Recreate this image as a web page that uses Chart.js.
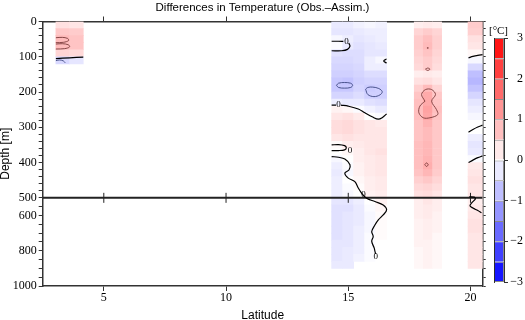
<!DOCTYPE html>
<html>
<head>
<meta charset="utf-8">
<script src="https://cdn.jsdelivr.net/npm/chart.js@4.4.0/dist/chart.umd.min.js"></script>
<style>
  html, body { margin: 0; padding: 0; background: #fff; overflow: hidden; }
  #wrap { position: relative; width: 525px; height: 320px; }
  #main { position: absolute; left: 0; top: 0; }
  #cbar { position: absolute; left: 474px; top: 0; }
</style>
</head>
<body>
<div id="wrap">
  <canvas id="main" width="525" height="320"></canvas>
  <canvas id="cbar" width="50" height="320"></canvas>
</div>
<script>
/* ---- data ---- */
const depthLevels = [10, 30, 50, 70, 90, 110, 130, 150, 170, 190, 210, 230, 250, 270, 290, 310, 330, 350, 370, 390, 410, 430, 450, 470, 490,
  520, 560, 600, 640, 680, 720, 760, 800, 840, 880];

const depthTicks = [0, 20, 40, 60, 80, 100, 120, 140, 160, 180, 200, 220, 240, 260, 280, 300, 320, 340, 360, 380, 400, 420, 440, 460, 480, 500,
  550, 600, 650, 700, 750, 800, 850, 900, 950, 1000];
const depthLabels = [0, 100, 200, 300, 400, 500, 600, 800, 1000];
const latTicks = [5, 10, 15, 20];

// strip near 3-4 N
const stripA_cols = [[3.04, 3.6], [3.6, 4.16]];
const stripA_vals = [
  [0.35, 0.65, 0.8, 0.8, 0.5, -0.45],
  [0.3, 0.6, 0.7, 0.7, 0.45, -0.3]
];

// strip near 14.3-16.6 N
const stripB_cols = [[14.32, 14.77], [14.77, 15.22], [15.22, 15.67], [15.67, 16.12], [16.12, 16.57]];
const stripB_vals = [
  [-0.25, -0.3, -0.1, -0.05, -0.35, -0.45, -0.5, -0.55, -0.65, -0.65, -0.5, -0.2, 0.15, 0.3, 0.4, 0.4, 0.3, 0.05, 0.0, -0.1, -0.2, -0.25, -0.2, -0.2, -0.2,
    -0.3, -0.35, -0.35, -0.35, -0.35, -0.35, -0.3, -0.3, -0.3, -0.25],
  [-0.25, -0.3, -0.2, -0.25, -0.4, -0.45, -0.5, -0.55, -0.7, -0.65, -0.5, -0.25, 0.1, 0.35, 0.45, 0.45, 0.35, 0.2, 0.1, 0.0, -0.05, -0.1, 0.0, -0.05, -0.1,
    -0.3, -0.35, -0.3, -0.3, -0.3, -0.3, -0.3, -0.25, -0.25, -0.25],
  [-0.15, -0.25, -0.3, -0.35, -0.4, -0.4, -0.45, -0.5, -0.55, -0.5, -0.4, -0.25, -0.05, 0.25, 0.35, 0.35, 0.3, 0.25, 0.2, 0.2, 0.15, 0.15, 0.1, 0.05, 0.0,
    -0.2, -0.25, -0.25, -0.25, -0.2, -0.2, -0.2, -0.2, -0.15, null],
  [-0.1, -0.2, -0.25, -0.3, -0.3, -0.2, -0.2, -0.4, -0.5, -0.6, -0.55, -0.35, -0.15, 0.0, 0.3, 0.3, 0.3, 0.3, 0.3, 0.25, 0.25, 0.25, 0.2, 0.2, 0.15,
    0.0, -0.05, -0.1, -0.1, -0.1, -0.05, -0.05, -0.05, -0.05, null],
  [-0.15, -0.2, -0.2, -0.25, -0.3, -0.1, -0.2, -0.4, -0.5, -0.55, -0.55, -0.4, -0.25, -0.05, 0.25, 0.3, 0.3, 0.3, 0.35, 0.3, 0.3, 0.3, 0.25, 0.25, 0.2,
    0.15, 0.1, 0.05, 0.05, 0.05, 0.05, 0.0, 0.0, 0.0, null]
];

// strip near 17.7-18.8 N
const stripC_cols = [[17.7, 18.07], [18.07, 18.45], [18.45, 18.82]];
const stripC_vals = [
  [0.2, 0.5, 0.6, 0.6, 0.55, 0.5, 0.45, 0.2, 0.35, 0.55, 0.7, 0.75, 0.75, 0.75, 0.7, 0.7, 0.7, 0.75, 0.75, 0.75, 0.75, 0.7, 0.55, 0.45, 0.35,
    0.2, 0.2, 0.2, 0.15, 0.15, 0.15, 0.15, 0.1, 0.1, 0.1],
  [0.25, 0.6, 0.75, 0.8, 0.7, 0.6, 0.6, 0.25, 0.4, 0.8, 1.0, 1.0, 1.1, 1.05, 0.9, 0.8, 0.8, 0.85, 0.85, 0.9, 0.95, 0.85, 0.65, 0.5, 0.4,
    0.3, 0.25, 0.25, 0.2, 0.2, 0.2, 0.15, 0.15, 0.15, 0.15],
  [0.2, 0.5, 0.55, 0.55, 0.5, 0.45, 0.4, 0.2, 0.3, 0.5, 0.65, 0.7, 0.75, 0.7, 0.65, 0.65, 0.65, 0.65, 0.65, 0.65, 0.65, 0.6, 0.5, 0.4, 0.3,
    0.2, 0.2, 0.15, 0.15, 0.15, 0.1, 0.1, 0.1, 0.1, 0.1]
];

// strip at the right edge, 19.9 N onward
const stripD_cols = [[19.9, 20.5]];
const stripD_vals = [
  [0.6, 0.55, 0.35, 0.3, 0.1, -0.1, -0.45, -0.75, -0.85, -0.7, -0.5, -0.3, -0.2, -0.1, 0.0, 0.0, -0.2, -0.3, -0.25, -0.05, 0.25, 0.3, 0.35, 0.3, 0.3,
    0.2, 0.25, 0.3, 0.35, 0.35, 0.3, 0.3, 0.3, 0.3, 0.3]
];

// zero contours [lat, depth]
const zeroContours = [
  [[3.04, 105], [3.6, 103], [4.16, 101]],
  [[14.32, 56], [14.6, 56], [14.8, 56.5]],
  [[15.02, 61], [15.07, 70], [14.97, 79], [14.73, 83], [14.32, 83]],
  [[16.57, 106], [16.45, 112], [16.57, 118]],
  [[14.32, 237], [14.5, 237]],
  [[14.7, 237], [15.0, 240], [15.41, 248], [15.68, 259], [16.0, 271], [16.23, 277], [16.4, 272], [16.57, 262]],
  [[14.32, 350], [14.6, 349], [14.85, 352], [14.92, 358], [14.85, 364], [14.6, 366], [14.32, 366]],
  [[14.32, 383], [14.6, 385], [14.86, 390], [15.07, 406], [15.03, 421], [14.86, 430], [15.0, 444], [15.27, 454], [15.41, 472], [15.55, 487],
    [15.75, 502], [16.09, 521], [16.43, 540], [16.57, 568], [16.43, 597], [16.23, 625], [16.09, 654], [15.96, 691], [16.02, 719], [15.96, 747],
    [16.06, 784], [16.09, 802], [16.12, 818]],
  [[19.92, 103], [20.1, 99], [20.3, 96], [20.5, 94]],
  [[19.92, 314], [20.1, 306], [20.3, 299], [20.5, 294]],
  [[19.92, 400], [20.1, 393], [20.3, 386], [20.5, 381]],
  [[19.95, 497], [20.15, 498], [20.2, 506], [20.05, 528], [19.98, 545], [20.1, 558], [20.3, 572], [20.45, 585]]
];
const zeroLabels = [[14.93, 56], [14.6, 237], [15.07, 367], [15.62, 492], [16.12, 835]];

// closed contours inside the negative patches
const blueContours = [
  [[3.04, 111], [3.2, 109], [3.35, 112], [3.42, 117]],
  [[14.52, 181], [14.6, 175], [14.85, 173], [15.1, 175], [15.18, 181], [15.1, 187], [14.85, 189], [14.6, 187], [14.52, 181]],
  [[15.71, 192], [15.8, 187], [16.0, 186], [16.25, 190], [16.39, 199], [16.3, 208], [16.05, 213], [15.8, 207], [15.71, 192]]
];
// closed contours inside the positive patches
const redContours = [
  [[3.04, 46], [3.3, 45], [3.52, 48], [3.56, 54], [3.35, 59], [3.04, 60]],
  [[3.04, 64], [3.3, 63], [3.55, 66], [3.6, 72], [3.4, 77], [3.04, 78]],
  [[18.22, 75], [18.25, 74], [18.28, 75], [18.25, 76], [18.22, 75]],
  [[18.16, 135], [18.25, 132], [18.34, 135], [18.25, 139], [18.16, 135]],
  [[18.14, 226], [18.0, 207], [18.16, 193], [18.41, 193], [18.57, 207], [18.41, 226], [18.61, 250], [18.66, 264], [18.34, 273], [18.07, 273],
    [17.89, 259], [17.93, 240], [18.14, 226]],
  [[18.13, 406], [18.2, 401], [18.27, 406], [18.2, 411], [18.13, 406]]
];

const splitDepth = 500;
const splitLine = [[2.5, 500], [20.5, 500]];

const cbEdges = [-3, -2.5, -2, -1.5, -1, -0.5, 0, 0.5, 1, 1.5, 2, 2.5, 3];
const cbTicks = [-3, -2, -1, 0, 1, 2, 3];

/* ---- helpers ---- */
const cmap = v => {
  const t = Math.max(-1, Math.min(1, v / 3));
  if (t >= 0) { const g = Math.round(255 * (1 - t)); return `rgb(255,${g},${g})`; }
  const g = Math.round(255 * (1 + t)); return `rgb(${g},${g},255)`;
};
const pts = arr => arr.map(([x, y]) => ({x, y}));

// depth axis: 0-500 m on the upper 2/3, 500-1000 m on the lower 1/3
class DepthScale extends Chart.LinearScale {
  static id = 'depth';
  static defaults = Chart.LinearScale.defaults;
  getPixelForValue(value) {
    if (value === null || value === undefined || isNaN(value)) return NaN;
    const dec = value <= splitDepth ? (value / splitDepth) * (2 / 3)
      : 2 / 3 + (value - splitDepth) / (this.max - splitDepth) / 3;
    return this.getPixelForDecimal(dec);
  }
  getValueForPixel(pixel) {
    const dec = this.getDecimalForPixel(pixel);
    return dec <= 2 / 3 ? dec * 1.5 * splitDepth : splitDepth + (dec - 2 / 3) * 3 * (this.max - splitDepth);
  }
}
Chart.register(DepthScale);

const cells = [];
[[stripA_cols, stripA_vals], [stripB_cols, stripB_vals], [stripC_cols, stripC_vals], [stripD_cols, stripD_vals]]
  .forEach(([cols, vals]) => cols.forEach((c, ci) => vals[ci].forEach((v, di) => {
    if (v !== null) cells.push({x: c, y: depthLevels[di], v});
  })));

const serif = {family: '"Liberation Serif", "Times New Roman", serif', size: 12};
const sans = {family: '"Liberation Sans", Arial, sans-serif', size: 12};
const axisInk = '#333';

const lineSet = (arr, color, width) => ({
  type: 'line', data: pts(arr), borderColor: color, borderWidth: width,
  pointRadius: 0, tension: 0.35, fill: false, order: 0
});

const labelPlugin = {
  id: 'zeroLabels',
  afterDatasetsDraw(chart) {
    const {ctx, scales: {x, y}} = chart;
    ctx.save();
    ctx.font = '9px "Liberation Serif", serif';
    ctx.fillStyle = '#000';
    ctx.textAlign = 'center';
    ctx.textBaseline = 'middle';
    zeroLabels.forEach(([lat, d]) => ctx.fillText('0', x.getPixelForValue(lat), y.getPixelForValue(d)));
    ctx.restore();
  }
};

new Chart(document.getElementById('main'), {
  type: 'bar',
  data: {
    datasets: [
      {
        type: 'bar', indexAxis: 'y', data: cells, order: 5,
        backgroundColor: ctx => ctx.raw ? cmap(ctx.raw.v) : 'transparent',
        borderWidth: 0, barPercentage: 1, categoryPercentage: 1
      },
      ...zeroContours.map(c => lineSet(c, '#000', 1.2)),
      ...blueContours.map(c => lineSet(c, '#3c4680', 0.9)),
      ...redContours.map(c => lineSet(c, '#7a3a3a', 0.9)),
      lineSet(splitLine, '#222', 2),
      {
        type: 'scatter', data: latTicks.map(v => ({x: v, y: splitDepth})), order: 0,
        pointStyle: 'line', rotation: 90, radius: 5, borderColor: '#222', borderWidth: 1
      }
    ]
  },
  options: {
    responsive: false,
    animation: false,
    layout: {padding: 0},
    plugins: {
      legend: {display: false},
      tooltip: {enabled: false},
      title: {
        display: true, text: 'Differences in Temperature (Obs.–Assim.)', color: '#000',
        font: {family: sans.family, size: 11.5, weight: 'normal', lineHeight: 1.2},
        padding: {top: 1, bottom: 0}
      }
    },
    scales: {
      x: {
        type: 'linear', position: 'bottom', min: 2.5, max: 20.5, beginAtZero: false, offset: false, z: 1,
        afterBuildTicks: s => { s.ticks = latTicks.map(v => ({value: v})); },
        ticks: {font: serif, color: '#000', padding: 0, autoSkip: false, maxRotation: 0},
        grid: {drawOnChartArea: false, offset: false, tickLength: 5, color: axisInk},
        border: {color: axisInk, width: 1.5},
        title: {display: true, text: 'Latitude', color: '#000', font: {...sans, lineHeight: 0.75}, padding: 0},
        afterFit: s => { s.height = 34; }
      },
      x2: {
        type: 'linear', position: 'top', min: 2.5, max: 20.5, offset: false, z: 1,
        afterBuildTicks: s => { s.ticks = latTicks.map(v => ({value: v})); },
        ticks: {display: false},
        grid: {drawOnChartArea: false, offset: false, tickLength: 5, color: axisInk},
        border: {color: axisInk, width: 1.5},
        afterFit: s => { s.height = 6.7; }
      },
      y: {
        type: 'depth', position: 'left', min: 0, max: 1000, reverse: true, offset: false, z: 1,
        afterBuildTicks: s => { s.ticks = depthTicks.map(v => ({value: v})); },
        ticks: {
          font: serif, color: '#000', padding: 2, autoSkip: false,
          callback: v => depthLabels.includes(v) ? String(v) : ''
        },
        grid: {drawOnChartArea: false, offset: false, tickLength: 4, color: axisInk},
        border: {color: axisInk, width: 1.5},
        title: {display: true, text: 'Depth [m]', color: '#000', font: {...sans, lineHeight: 1}, padding: 0},
        afterFit: s => { s.width = 42.7; }
      },
      y2: {
        type: 'depth', position: 'right', min: 0, max: 1000, reverse: true, offset: false, z: 1,
        afterBuildTicks: s => { s.ticks = depthTicks.map(v => ({value: v})); },
        ticks: {display: false},
        grid: {drawOnChartArea: false, offset: false, tickLength: 3, color: axisInk},
        border: {color: axisInk, width: 1.5},
        afterFit: s => { s.width = 42.3; }
      }
    }
  },
  plugins: [labelPlugin]
});

/* ---- colour bar ---- */
new Chart(document.getElementById('cbar'), {
  type: 'bar',
  data: {
    labels: ['cb'],
    datasets: cbEdges.slice(0, -1).map((lo, i) => ({
      data: [[lo, cbEdges[i + 1]]],
      backgroundColor: cmap((lo + cbEdges[i + 1]) / 2),
      borderColor: 'rgba(40,40,40,0.55)',
      borderWidth: i === 0 ? 1 : {top: 1, left: 1, right: 1, bottom: 0},
      borderSkipped: false,
      grouped: false, barPercentage: 1, categoryPercentage: 1, inflateAmount: 0,
      yAxisID: 'y'
    }))
  },
  options: {
    responsive: false,
    animation: false,
    layout: {padding: {top: 24, bottom: 38, left: 0, right: 1}},
    plugins: {
      legend: {display: false},
      tooltip: {enabled: false},
      title: {
        display: true, text: '[°C]', color: '#000',
        font: {family: serif.family, size: 11, weight: 'normal', lineHeight: 14 / 11},
        padding: 0
      }
    },
    scales: {
      x: {display: false},
      yl: {
        type: 'linear', position: 'left', min: -3, max: 3,
        ticks: {display: false}, grid: {display: false},
        border: {color: axisInk, width: 1},
        afterFit: s => { s.width = 20; }
      },
      y: {
        type: 'linear', position: 'right', min: -3, max: 3,
        afterBuildTicks: s => { s.ticks = cbTicks.map(v => ({value: v})); },
        ticks: {
          font: serif, color: '#000', padding: 2.5, crossAlign: 'far', autoSkip: false,
          callback: v => v < 0 ? '\u2212' + (-v) : String(v)
        },
        grid: {drawOnChartArea: false, tickLength: 4, color: axisInk},
        border: {color: axisInk, width: 1},
        afterFit: s => { s.width = 19; }
      }
    }
  }
});
</script>
</body>
</html>
